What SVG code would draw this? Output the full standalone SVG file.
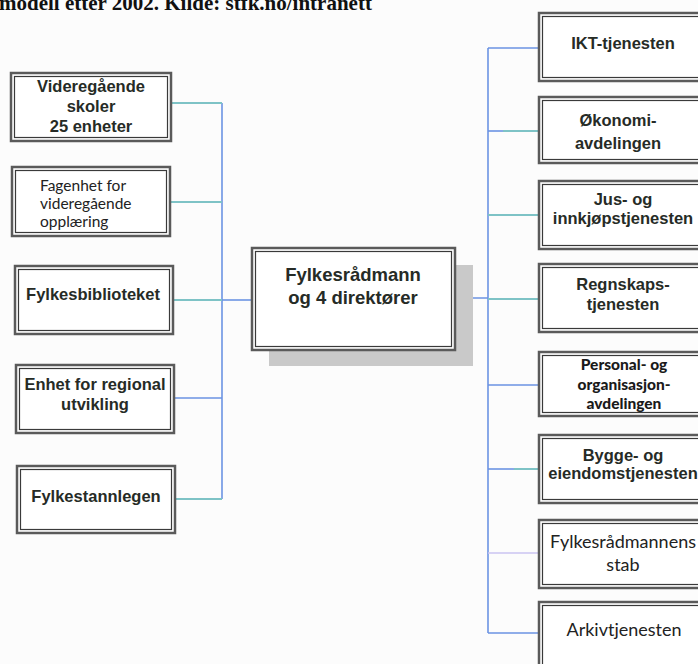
<svg xmlns="http://www.w3.org/2000/svg" width="698" height="664" viewBox="0 0 698 664">
<style>
.bo{fill:#fff;stroke:#5a5a5a;stroke-width:2.5}
.bi{fill:none;stroke:#3a3a3a;stroke-width:1.2}
.t{font-family:"Liberation Sans",Arial,sans-serif;font-weight:bold;font-size:16.5px;fill:#262b26;text-anchor:middle}
.r{font-family:Lato,"Open Sans",sans-serif;font-size:15.5px;fill:#222}
.rb{font-family:Lato,"Open Sans",sans-serif;font-weight:900;font-size:15.5px;fill:#1a1a1a;text-anchor:middle}
.teal{stroke:#7ec3c6;stroke-width:2;fill:none}
.blue{stroke:#6b93e3;stroke-width:1.6;fill:none}
.lil{stroke:#cbc4f2;stroke-width:1.4;fill:none}
.title{font-family:"Liberation Serif","Times New Roman",serif;font-weight:bold;font-size:21px;fill:#111}
</style>
<rect width="698" height="664" fill="#fcfcfc"/>
<text class="title" x="-1" y="10">modell etter 2002. Kilde: stfk.no/intranett</text>

<g id="connectors">
  <line class="blue" x1="222" y1="103" x2="222" y2="499"/>
  <line class="teal" x1="171" y1="103" x2="222" y2="103"/>
  <line class="teal" x1="170" y1="202" x2="222" y2="202"/>
  <line class="teal" x1="173" y1="300" x2="222" y2="300"/>
  <line class="blue" x1="174" y1="398" x2="222" y2="398"/>
  <line class="teal" x1="175" y1="499" x2="222" y2="499"/>
  <line class="blue" x1="222" y1="300" x2="252" y2="300"/>

  <line class="blue" x1="455" y1="298" x2="488" y2="298"/>
  <line class="blue" x1="488" y1="48" x2="488" y2="633"/>
  <line class="blue" x1="488" y1="48" x2="539" y2="48"/>
  <line class="blue" x1="488" y1="131" x2="503" y2="131"/>
  <line class="teal" x1="503" y1="131" x2="539" y2="131"/>
  <line class="teal" x1="488" y1="215" x2="539" y2="215"/>
  <line class="teal" x1="488" y1="299" x2="539" y2="299"/>
  <line class="blue" x1="488" y1="385" x2="539" y2="385"/>
  <line class="blue" x1="488" y1="469" x2="514" y2="469"/>
  <line class="teal" x1="514" y1="469" x2="539" y2="469"/>
  <line class="lil" x1="488" y1="553" x2="539" y2="553"/>
  <line class="blue" x1="488" y1="633" x2="539" y2="633"/>
</g>

<g id="n-vgs">
  <rect class="bo" x="11" y="73" width="160" height="68"/>
  <rect class="bi" x="14.5" y="76.5" width="153" height="61"/>
  <text class="t" x="91" y="92">Videregående</text>
  <text class="t" x="91" y="112">skoler</text>
  <text class="t" x="91" y="132">25 enheter</text>
</g>
<g id="n-fagenhet">
  <rect class="bo" x="12" y="167" width="158" height="69"/>
  <rect class="bi" x="15.5" y="170.5" width="151" height="62"/>
  <text class="r" x="40" y="191">Fagenhet for</text>
  <text class="r" x="40" y="209">videregående</text>
  <text class="r" x="40" y="227">opplæring</text>
</g>
<g id="n-bibl">
  <rect class="bo" x="15" y="266" width="158" height="68"/>
  <rect class="bi" x="18.5" y="269.5" width="151" height="61"/>
  <text class="t" x="93" y="300">Fylkesbiblioteket</text>
</g>
<g id="n-regional">
  <rect class="bo" x="16" y="365" width="158" height="68"/>
  <rect class="bi" x="19.5" y="368.5" width="151" height="61"/>
  <text class="t" x="95" y="390">Enhet for regional</text>
  <text class="t" x="95" y="410">utvikling</text>
</g>
<g id="n-tannlegen">
  <rect class="bo" x="17" y="466" width="158" height="67"/>
  <rect class="bi" x="20.5" y="469.5" width="151" height="60"/>
  <text class="t" x="96" y="502">Fylkestannlegen</text>
</g>

<g id="n-center">
  <rect x="269" y="265" width="204" height="101" fill="#c9c9c9"/>
  <rect class="bo" x="252" y="248" width="203" height="102"/>
  <rect class="bi" x="255.5" y="251.5" width="196" height="95"/>
  <text class="t" x="353" y="281" style="font-size:18.5px">Fylkesrådmann</text>
  <text class="t" x="353" y="304" style="font-size:18.5px">og 4 direktører</text>
</g>

<g id="n-ikt">
  <rect class="bo" x="539" y="13" width="180" height="68"/>
  <rect class="bi" x="542.5" y="16.5" width="173" height="61"/>
  <text class="t" x="623" y="49">IKT-tjenesten</text>
</g>
<g id="n-okonomi">
  <rect class="bo" x="539" y="97" width="180" height="66"/>
  <rect class="bi" x="542.5" y="100.5" width="173" height="59"/>
  <text class="t" x="618" y="126">Økonomi-</text>
  <text class="t" x="618" y="149">avdelingen</text>
</g>
<g id="n-jus">
  <rect class="bo" x="539" y="181" width="180" height="68"/>
  <rect class="bi" x="542.5" y="184.5" width="173" height="61"/>
  <text class="t" x="623" y="205">Jus- og</text>
  <text class="t" x="623" y="224">innkjøpstjenesten</text>
</g>
<g id="n-regnskap">
  <rect class="bo" x="539" y="264" width="180" height="68"/>
  <rect class="bi" x="542.5" y="267.5" width="173" height="61"/>
  <text class="t" x="623" y="290">Regnskaps-</text>
  <text class="t" x="623" y="310">tjenesten</text>
</g>
<g id="n-personal">
  <rect class="bo" x="539" y="352" width="180" height="64"/>
  <rect class="bi" x="542.5" y="355.5" width="173" height="57"/>
  <text class="rb" x="624" y="370">Personal- og</text>
  <text class="rb" x="624" y="390">organisasjon-</text>
  <text class="rb" x="624" y="409">avdelingen</text>
</g>
<g id="n-bygge">
  <rect class="bo" x="539" y="435" width="180" height="68"/>
  <rect class="bi" x="542.5" y="438.5" width="173" height="61"/>
  <text class="t" x="623" y="461">Bygge- og</text>
  <text class="t" x="623" y="479">eiendomstjenesten</text>
</g>
<g id="n-stab">
  <rect class="bo" x="539" y="520" width="180" height="68"/>
  <rect class="bi" x="542.5" y="523.5" width="173" height="61"/>
  <text class="r" x="623" y="548" text-anchor="middle" style="font-size:18px">Fylkesrådmannens</text>
  <text class="r" x="623" y="571" text-anchor="middle" style="font-size:18px">stab</text>
</g>
<g id="n-arkiv">
  <rect class="bo" x="539" y="602" width="180" height="80"/>
  <rect class="bi" x="542.5" y="605.5" width="173" height="73"/>
  <text class="r" x="624" y="636" text-anchor="middle" style="font-size:18px">Arkivtjenesten</text>
</g>
</svg>
